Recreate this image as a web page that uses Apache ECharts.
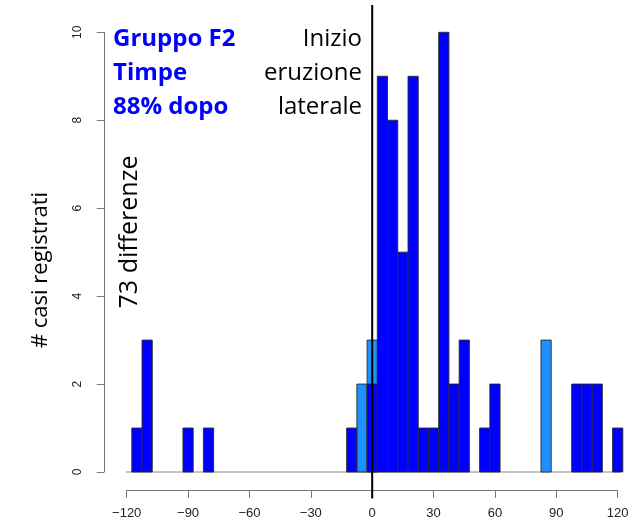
<!DOCTYPE html>
<html>
<head>
<meta charset="utf-8">
<script src="https://cdn.jsdelivr.net/npm/echarts@6/dist/echarts.min.js"></script>
<style>
  html, body { margin: 0; padding: 0; background: #fff; }
  #chart { width: 633px; height: 530px; }
</style>
</head>
<body>
<div id="chart"></div>
<script>
// Histogram of day differences, 5-day bins (bin centres and counts)
const binWidth = 5;
const darkBins   = [-115, -110, -90, -80, -10, 0, 5, 10, 15, 20, 25, 30, 35, 40, 45, 55, 60, 100, 105, 110, 120];
const darkCounts = [   1,    3,   1,   1,   1, 2, 9,  8,  5,  9,  1,  1, 10,  2,  3,  1,  2,   2,   2,   2,   1];
const lightBins   = [-5, 0, 85];
const lightCounts = [ 2, 3,  3];

const xTicks = [-120, -90, -60, -30, 0, 30, 60, 90, 120];
const yTicks = [0, 2, 4, 6, 8, 10];

const eventLine = [[0, -0.6], [0, 10.62]];
const baseLine  = [[-122.8, 0], [126, 0]];

const infoLines  = ['Gruppo F2', 'Timpe', '88% dopo'];
const eventLabel = ['Inizio', 'eruzione', 'laterale'];

const DARK = '#0000FF';
const LIGHT = '#1E90FF';
const AXIS = '#777777';

function pairs(xs, ys) { return xs.map((x, i) => [x, ys[i]]); }

function histItem(fill) {
  return function (params, api) {
    const c = api.value(0), n = api.value(1);
    const p0 = api.coord([c - binWidth / 2, n]);
    const p1 = api.coord([c + binWidth / 2, 0]);
    return {
      type: 'rect',
      shape: { x: p0[0], y: p0[1], width: p1[0] - p0[0], height: p1[1] - p0[1] },
      style: { fill: fill, stroke: '#2a2a2a', lineWidth: 0.9 }
    };
  };
}

const chart = echarts.init(document.getElementById('chart'), null, { renderer: 'canvas' });

const sans = '"Open Sans", sans-serif';
const rFont = '"Liberation Sans", Arial, sans-serif';

chart.setOption({
  animation: false,
  backgroundColor: '#ffffff',
  grid: { left: 126.7, right: 15.3, top: 32.3, bottom: 58, containLabel: false },
  xAxis: {
    type: 'value', min: -120, max: 120, interval: 30, offset: 18,
    axisLine: { show: true, onZero: false, lineStyle: { color: AXIS, width: 1 } },
    axisTick: { show: true, length: 8, lineStyle: { color: AXIS } },
    splitLine: { show: false },
    axisLabel: {
      margin: 17, color: '#222', fontFamily: rFont, fontSize: 13,
      formatter: v => (v < 0 ? '\u2212' + (-v) : String(v)),
      showMinLabel: true, showMaxLabel: true
    }
  },
  yAxis: {
    type: 'value', min: 0, max: 10, interval: 2, offset: 22.7,
    axisLine: { show: true, onZero: false, lineStyle: { color: AXIS, width: 1 } },
    axisTick: { show: true, length: 7.3, lineStyle: { color: AXIS } },
    splitLine: { show: false },
    axisLabel: { rotate: 90, margin: 20, color: '#222', fontFamily: rFont, fontSize: 12 }
  },
  series: [
    {
      type: 'line', data: baseLine, clip: false, showSymbol: false, silent: true,
      lineStyle: { color: '#8a8a8a', width: 1.2 }, z: 1
    },
    {
      type: 'custom', name: 'light', data: pairs(lightBins, lightCounts),
      renderItem: histItem(LIGHT), clip: false, z: 2
    },
    {
      type: 'custom', name: 'dark', data: pairs(darkBins, darkCounts),
      renderItem: histItem(DARK), clip: false, z: 3
    },
    {
      type: 'line', data: eventLine, clip: false, showSymbol: false, silent: true,
      lineStyle: { color: '#000', width: 2 }, z: 5
    }
  ],
  graphic: [
    {
      type: 'text', x: 41, y: 270, rotation: Math.PI / 2,
      style: { text: '# casi registrati', font: '22px ' + sans, fill: '#000', align: 'center', verticalAlign: 'middle' }
    },
    {
      type: 'text', x: 130, y: 232, rotation: Math.PI / 2,
      style: { text: '73 differenze', font: '25px ' + sans, fill: '#000', align: 'center', verticalAlign: 'middle' }
    },
    {
      type: 'text', x: 113, y: 22,
      style: { text: infoLines.join('\n'), font: 'bold 24px ' + sans, fill: '#0000FF', lineHeight: 34, align: 'left', verticalAlign: 'top' }
    },
    {
      type: 'text', x: 362, y: 22,
      style: { text: eventLabel.join('\n'), font: '24px ' + sans, fill: '#000', lineHeight: 34, align: 'right', verticalAlign: 'top' }
    }
  ]
});
</script>
</body>
</html>
